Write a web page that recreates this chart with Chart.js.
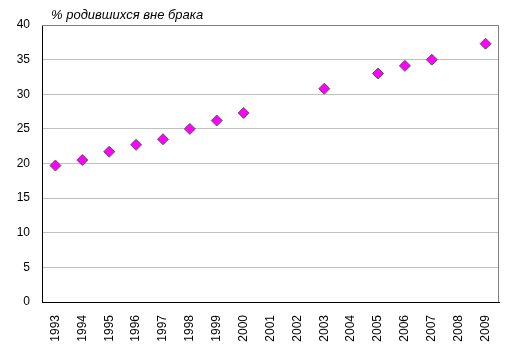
<!DOCTYPE html>
<html><head><meta charset="utf-8">
<script src="https://cdn.jsdelivr.net/npm/chart.js@4"></script>
<style>html,body{margin:0;padding:0;background:#fff}#c{display:block}</style>
</head><body>
<canvas id="c" width="514" height="359"></canvas>
<script>
const years = ['1993','1994','1995','1996','1997','1998','1999','2000','2001','2002','2003','2004','2005','2006','2007','2008','2009'];
const shareOutOfWedlock = [19.7,20.5,21.7,22.7,23.5,25.0,26.2,27.3,null,null,30.8,null,33.0,34.1,35.0,null,37.3];
const yTicks = [0,5,10,15,20,25,30,35,40];
const titleText = '% родившихся вне брака';

const framePlugin = {
  id: 'frame',
  beforeDatasetsDraw(chart) {
    const {ctx, chartArea: a} = chart;
    ctx.save();
    ctx.strokeStyle = '#808080';
    ctx.lineWidth = 1;
    ctx.beginPath();
    ctx.moveTo(a.left, Math.round(a.top) + 0.5);
    ctx.lineTo(Math.round(a.right) - 0.5, Math.round(a.top) + 0.5);
    ctx.lineTo(Math.round(a.right) - 0.5, a.bottom);
    ctx.stroke();
    ctx.restore();
  },
  afterDraw(chart) {
    const {ctx, chartArea: a} = chart;
    ctx.save();
    ctx.fillStyle = '#000';
    ctx.font = 'italic 13px "Liberation Sans", Arial, sans-serif';
    ctx.textBaseline = 'alphabetic';
    ctx.textAlign = 'left';
    ctx.fillText(titleText, a.left + 9, a.top - 6);
    ctx.restore();
  }
};

new Chart(document.getElementById('c'), {
  type: 'line',
  data: {
    labels: years,
    datasets: [{
      data: shareOutOfWedlock,
      showLine: false,
      pointStyle: 'rectRot',
      pointRadius: 5.5,
      pointHoverRadius: 5.5,
      pointBackgroundColor: '#ff00ff',
      pointBorderColor: '#5a5a5a',
      pointBorderWidth: 1
    }]
  },
  options: {
    responsive: false,
    animation: false,
    events: [],
    layout: { padding: { top: 25, right: 15, left: 0, bottom: 0 } },
    plugins: { legend: { display: false }, tooltip: { enabled: false }, title: { display: false } },
    scales: {
      x: {
        offset: true,
        grid: { display: false, drawTicks: false },
        border: { color: '#000', width: 1 },
        ticks: {
          minRotation: 90, maxRotation: 90, autoSkip: false, padding: 13,
          color: '#000',
          font: { family: '"Liberation Sans", Arial, sans-serif', size: 12 }
        },
        afterFit(s) { s.height = 57; }
      },
      y: {
        min: 0, max: 40,
        afterBuildTicks(s) { s.ticks = yTicks.map(v => ({ value: v })); },
        grid: { color: '#c0c0c0', lineWidth: 1, drawTicks: false },
        border: { color: '#000', width: 1 },
        ticks: {
          padding: 12,
          color: '#000',
          font: { family: '"Liberation Sans", Arial, sans-serif', size: 12 }
        },
        afterFit(s) { s.width = 42; }
      }
    }
  },
  plugins: [framePlugin]
});
</script>
</body></html>
